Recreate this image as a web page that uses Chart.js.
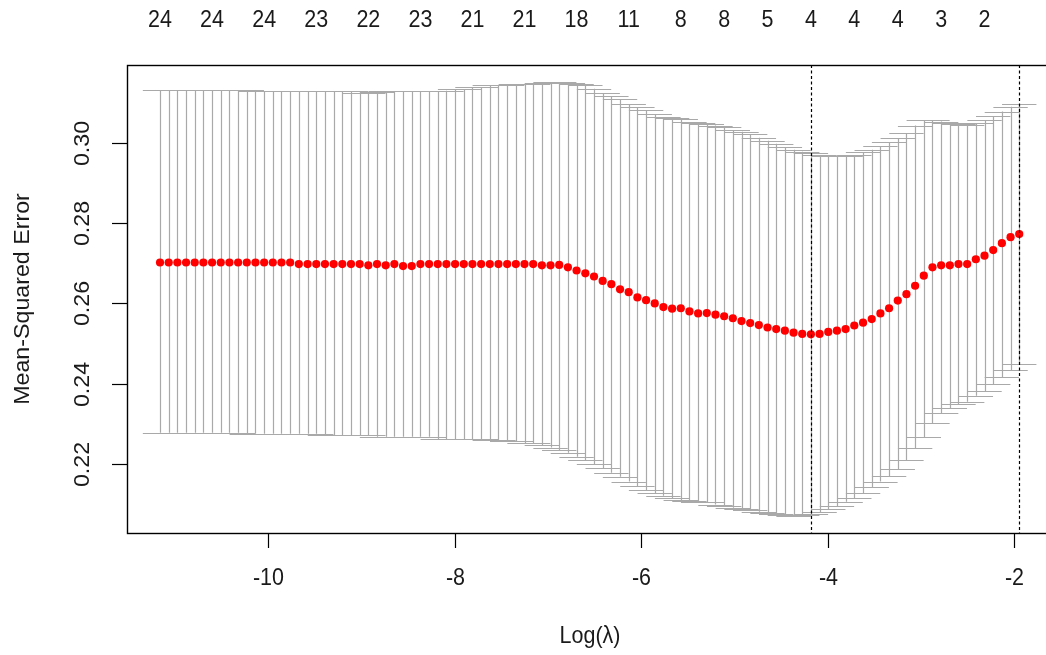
<!DOCTYPE html>
<html><head><meta charset="utf-8">
<script src="https://cdn.jsdelivr.net/npm/chart.js@4.4.1/dist/chart.umd.min.js"></script>
<style>
html,body{margin:0;padding:0;background:#fff;overflow:hidden;width:1046px;height:655px}
#wrap{position:absolute;left:0;top:0;width:1062px;height:655px}
</style>
</head><body><div id="wrap"><canvas id="c" width="1062" height="655"></canvas></div>
<script>
// log(lambda) sequence
const logLambda = [-11.157,-11.064,-10.971,-10.878,-10.785,-10.692,-10.599,-10.506,-10.413,-10.320,
-10.227,-10.134,-10.041,-9.948,-9.855,-9.762,-9.669,-9.575,-9.482,-9.389,
-9.296,-9.203,-9.110,-9.017,-8.924,-8.831,-8.738,-8.645,-8.552,-8.459,
-8.366,-8.273,-8.180,-8.087,-7.994,-7.901,-7.808,-7.715,-7.622,-7.529,
-7.436,-7.343,-7.250,-7.157,-7.064,-6.971,-6.878,-6.785,-6.692,-6.598,
-6.505,-6.412,-6.319,-6.226,-6.133,-6.040,-5.947,-5.854,-5.761,-5.668,
-5.575,-5.482,-5.389,-5.296,-5.203,-5.110,-5.017,-4.924,-4.831,-4.738,
-4.645,-4.552,-4.459,-4.366,-4.273,-4.180,-4.087,-3.994,-3.901,-3.808,
-3.715,-3.621,-3.528,-3.435,-3.342,-3.249,-3.156,-3.063,-2.970,-2.877,
-2.784,-2.691,-2.598,-2.505,-2.412,-2.319,-2.226,-2.133,-2.040,-1.947];

// mean cross-validated error
const cvMean = [0.2702,0.2702,0.2702,0.2702,0.2702,0.2702,0.2702,0.2702,0.2702,0.2702,
0.2702,0.2702,0.2702,0.2702,0.2702,0.2702,0.2698,0.2698,0.2698,0.2698,
0.2698,0.2698,0.2698,0.2698,0.2695,0.2698,0.2695,0.2698,0.2693,0.2693,
0.2698,0.2698,0.2698,0.2698,0.2698,0.2698,0.2698,0.2698,0.2698,0.2698,
0.2698,0.2698,0.2698,0.2698,0.2695,0.2695,0.2696,0.2690,0.2682,0.2675,
0.2667,0.2656,0.2648,0.2635,0.2628,0.2615,0.2608,0.2600,0.2591,0.2587,
0.2588,0.2580,0.2575,0.2576,0.2572,0.2568,0.2563,0.2556,0.2551,0.2546,
0.2540,0.2536,0.2532,0.2527,0.2524,0.2523,0.2524,0.2529,0.2532,0.2536,
0.2545,0.2552,0.2561,0.2575,0.2588,0.2607,0.2623,0.2644,0.2669,0.2690,
0.2695,0.2695,0.2698,0.2698,0.2710,0.2719,0.2733,0.2750,0.2765,0.2773];

// upper error bar
const cvUpper = [0.3132,0.3132,0.3132,0.3132,0.3132,0.3132,0.3132,0.3132,0.3132,0.3132,
0.3132,0.3130,0.3128,0.3128,0.3128,0.3128,0.3128,0.3128,0.3128,0.3128,
0.3128,0.3128,0.3128,0.3125,0.3125,0.3126,0.3128,0.3128,0.3128,0.3128,
0.3128,0.3128,0.3128,0.3130,0.3134,0.3134,0.3139,0.3139,0.3143,0.3143,
0.3145,0.3146,0.3146,0.3147,0.3150,0.3151,0.3151,0.3150,0.3146,0.3143,
0.3135,0.3124,0.3117,0.3109,0.3096,0.3089,0.3081,0.3072,0.3064,0.3061,
0.3059,0.3052,0.3049,0.3047,0.3043,0.3039,0.3031,0.3028,0.3022,0.3013,
0.3005,0.2998,0.2989,0.2983,0.2978,0.2974,0.2970,0.2968,0.2968,0.2968,
0.2970,0.2976,0.2983,0.2991,0.3001,0.3012,0.3024,0.3043,0.3056,0.3056,
0.3053,0.3049,0.3047,0.3045,0.3049,0.3056,0.3066,0.3078,0.3090,0.3097];

// lower error bar
const cvLower = [0.2278,0.2278,0.2278,0.2278,0.2278,0.2278,0.2278,0.2278,0.2278,0.2278,
0.2275,0.2275,0.2275,0.2275,0.2275,0.2275,0.2275,0.2275,0.2275,0.2272,
0.2272,0.2272,0.2272,0.2272,0.2272,0.2268,0.2268,0.2268,0.2268,0.2268,
0.2268,0.2268,0.2262,0.2262,0.2262,0.2262,0.2262,0.2262,0.2260,0.2260,
0.2256,0.2256,0.2252,0.2252,0.2247,0.2241,0.2235,0.2228,0.2218,0.2210,
0.2199,0.2189,0.2178,0.2168,0.2156,0.2145,0.2134,0.2127,0.2121,0.2114,
0.2110,0.2108,0.2106,0.2104,0.2099,0.2095,0.2091,0.2088,0.2085,0.2081,
0.2077,0.2075,0.2073,0.2071,0.2073,0.2075,0.2080,0.2088,0.2095,0.2106,
0.2114,0.2127,0.2142,0.2156,0.2170,0.2187,0.2210,0.2239,0.2266,0.2301,
0.2326,0.2339,0.2349,0.2355,0.2370,0.2382,0.2398,0.2416,0.2434,0.2448];

// number of non-zero coefficients shown on the top axis
const nzAt = [-11.157,-10.599,-10.041,-9.482,-8.924,-8.366,-7.808,-7.250,-6.692,-6.133,-5.575,-5.110,-4.645,-4.180,-3.715,-3.249,-2.784,-2.319];
const nzLabels = ['24','24','24','23','22','23','21','21','18','11','8','8','5','4','4','4','3','2'];

const xTicks = [-10,-8,-6,-4,-2];
const xTickLabels = ['-10','-8','-6','-4','-2'];
const yTicks = [0.22,0.24,0.26,0.28,0.30];
const yTickLabels = ['0.22','0.24','0.26','0.28','0.30'];
const lambdaMin = -4.180;
const lambda1se = -1.947;
const xTitle = 'Log(\u03BB)';
const yTitle = 'Mean-Squared Error';

const FONT = '21.5px "Liberation Sans", Arial, Helvetica, sans-serif';
const TXT = '#1a1a1a';
const VSTRETCH = 1.08;

function hText(ctx, s, x, y) {
  ctx.save();
  ctx.translate(x, y);
  ctx.scale(1, VSTRETCH);
  ctx.fillText(s, 0, 0);
  ctx.restore();
}
function vText(ctx, s, x, y) {
  ctx.save();
  ctx.translate(x, y);
  ctx.rotate(-Math.PI / 2);
  ctx.scale(VSTRETCH, 1);
  ctx.fillText(s, 0, 0);
  ctx.restore();
}

const rPlot = {
  id: 'rPlot',
  beforeDatasetsDraw(chart) {
    const {ctx, chartArea: a, scales: {x, y}} = chart;
    ctx.save();
    ctx.beginPath(); ctx.rect(a.left, a.top, a.right - a.left, a.bottom - a.top); ctx.clip();
    ctx.strokeStyle = '#a9a9a9';
    ctx.lineWidth = 1.2;
    const barw = (logLambda[logLambda.length - 1] - logLambda[0]) * 0.02;
    for (let i = 0; i < logLambda.length; i++) {
      const px = Math.round(x.getPixelForValue(logLambda[i])) + 0.5;
      const pu = y.getPixelForValue(cvUpper[i]);
      const pl = y.getPixelForValue(cvLower[i]);
      const l = x.getPixelForValue(logLambda[i] - barw);
      const r = x.getPixelForValue(logLambda[i] + barw);
      ctx.beginPath();
      ctx.moveTo(px, pu); ctx.lineTo(px, pl);
      ctx.moveTo(l, Math.round(pu) + 0.5); ctx.lineTo(r, Math.round(pu) + 0.5);
      ctx.moveTo(l, Math.round(pl) + 0.5); ctx.lineTo(r, Math.round(pl) + 0.5);
      ctx.stroke();
    }
    ctx.restore();
  },
  afterDatasetsDraw(chart) {
    const {ctx, chartArea: a, scales: {x}} = chart;
    ctx.save();
    ctx.strokeStyle = '#000';
    ctx.lineWidth = 1.2;
    ctx.setLineDash([3, 2.5]);
    [lambdaMin, lambda1se].forEach(v => {
      const px = Math.round(x.getPixelForValue(v)) + 0.5;
      ctx.beginPath(); ctx.moveTo(px, a.top); ctx.lineTo(px, a.bottom); ctx.stroke();
    });
    ctx.restore();
  },
  afterDraw(chart) {
    const {ctx, chartArea: a, scales: {x, y}} = chart;
    ctx.save();
    ctx.strokeStyle = '#000';
    ctx.lineWidth = 1.4;
    ctx.strokeRect(Math.round(a.left) + 0.5, Math.round(a.top) + 0.5, Math.round(a.right - a.left), Math.round(a.bottom - a.top));
    ctx.fillStyle = TXT;
    ctx.font = FONT;
    ctx.lineWidth = 1.2;
    ctx.textAlign = 'center'; ctx.textBaseline = 'middle';
    xTicks.forEach((v, k) => {
      const px = Math.round(x.getPixelForValue(v)) + 0.5;
      ctx.beginPath(); ctx.moveTo(px, a.bottom); ctx.lineTo(px, a.bottom + 15); ctx.stroke();
      hText(ctx, xTickLabels[k], px, a.bottom + 46);
    });
    yTicks.forEach((v, k) => {
      const py = Math.round(y.getPixelForValue(v)) + 0.5;
      ctx.beginPath(); ctx.moveTo(a.left, py); ctx.lineTo(a.left - 15, py); ctx.stroke();
      vText(ctx, yTickLabels[k], a.left - 44, py);
    });
    nzAt.forEach((v, k) => {
      hText(ctx, nzLabels[k], x.getPixelForValue(v), a.top - 44);
    });
    hText(ctx, xTitle, (a.left + a.right) / 2, a.bottom + 104);
    vText(ctx, yTitle, a.left - 104, (a.top + a.bottom) / 2);
    ctx.restore();
  }
};

const points = logLambda.map((v, i) => ({x: v, y: cvMean[i]}));

new Chart(document.getElementById('c'), {
  type: 'scatter',
  data: {
    datasets: [{
      data: points,
      pointRadius: 4.1,
      pointHoverRadius: 4.1,
      pointBackgroundColor: '#ff0000',
      pointBorderColor: '#ff0000',
      pointBorderWidth: 0,
      showLine: false
    }]
  },
  options: {
    responsive: false,
    animation: false,
    devicePixelRatio: 1,
    layout: {padding: {left: 127, top: 65, right: 9, bottom: 122}},
    plugins: {legend: {display: false}, tooltip: {enabled: false}},
    scales: {
      x: {type: 'linear', min: -11.511, max: -1.585, display: false},
      y: {type: 'linear', min: 0.2028, max: 0.3194, display: false}
    }
  },
  plugins: [rPlot]
});
</script>
</body></html>
